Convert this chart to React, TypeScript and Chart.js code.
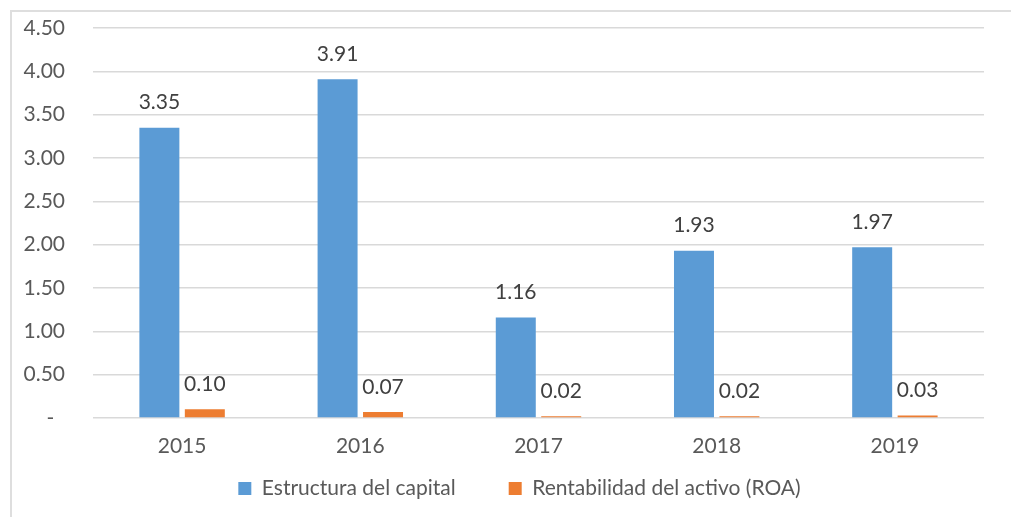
import React, { useEffect, useRef } from "react";
import { Chart, registerables } from "chart.js";

Chart.register(...registerables);

const years = ["2015", "2016", "2017", "2018", "2019"];
const capitalStructure = [3.35, 3.91, 1.16, 1.93, 1.97];
const returnOnAssets = [0.1, 0.07, 0.02, 0.02, 0.03];
const yTicks = [0, 0.5, 1, 1.5, 2, 2.5, 3, 3.5, 4, 4.5];

const FONT = "Lato, 'Open Sans', sans-serif";
const SIZE = 21;

// Draws each bar's value above it
const valueLabels = {
  id: "valueLabels",
  afterDatasetsDraw(chart: any) {
    const ctx = chart.ctx;
    ctx.save();
    ctx.font = `${SIZE}px ${FONT}`;
    ctx.fillStyle = "#404040";
    ctx.textAlign = "center";
    ctx.textBaseline = "middle";
    chart.data.datasets.forEach((ds: any, di: number) => {
      const meta = chart.getDatasetMeta(di);
      meta.data.forEach((bar: any, i: number) => {
        const v = ds.data[i] as number;
        ctx.fillText(v.toFixed(2), bar.x, bar.y - 25);
      });
    });
    ctx.restore();
  },
};

// Centres the legend row under the plot instead of the whole canvas
const legendShift = {
  id: "legendShift",
  afterLayout(chart: any) {
    if (chart.legend) chart.legend.left += 55;
  },
};

export default function App() {
  const canvasRef = useRef<HTMLCanvasElement | null>(null);

  useEffect(() => {
    if (!canvasRef.current) return;
    const chart = new Chart(canvasRef.current, {
      type: "bar",
      data: {
        labels: years,
        datasets: [
          {
            label: "Estructura del capital",
            data: capitalStructure,
            backgroundColor: "#5b9bd5",
            categoryPercentage: 0.51,
            barPercentage: 0.88,
          },
          {
            label: "Rentabilidad del activo (ROA)",
            data: returnOnAssets,
            backgroundColor: "#ed7d31",
            categoryPercentage: 0.51,
            barPercentage: 0.88,
          },
        ],
      },
      options: {
        animation: false,
        responsive: false,
        maintainAspectRatio: false,
        layout: { padding: { top: 28, right: 27, left: 0, bottom: 8 } },
        plugins: {
          tooltip: { enabled: false },
          legend: {
            position: "bottom",
            labels: {
              font: { family: FONT, size: SIZE },
              color: "#595959",
              boxWidth: 13,
              boxHeight: 13,
              padding: 10,
              generateLabels(chart: any) {
                return chart.data.datasets.map((ds: any, i: number) => ({
                  text: i === 0 ? ds.label + "        " : ds.label,
                  fillStyle: ds.backgroundColor,
                  strokeStyle: ds.backgroundColor,
                  lineWidth: 0,
                  datasetIndex: i,
                  hidden: false,
                  fontColor: "#595959",
                }));
              },
            },
          },
        },
        scales: {
          x: {
            afterFit(scale: any) {
              scale.height = 50;
              scale.paddingLeft = 0;
              scale.paddingRight = 0;
            },
            grid: { display: false },
            border: { display: false },
            ticks: {
              font: { family: FONT, size: SIZE },
              color: "#595959",
              padding: 8,
            },
          },
          y: {
            min: 0,
            max: 4.5,
            afterFit(scale: any) {
              scale.width = 93;
              scale.paddingTop = 0;
              scale.paddingBottom = 0;
            },
            afterBuildTicks(scale: any) {
              scale.ticks = yTicks.map((v) => ({ value: v }));
            },
            grid: { color: "#d9d9d9", lineWidth: 1.5, drawTicks: false },
            border: { display: false },
            ticks: {
              font: { family: FONT, size: SIZE },
              color: "#595959",
              padding: 28,
              callback: (v: any) => (Number(v) === 0 ? "-  " : Number(v).toFixed(2)),
            },
          },
        },
      },
      plugins: [valueLabels, legendShift],
    });
    return () => chart.destroy();
  }, []);

  return (
    <div
      style={{
        position: "absolute",
        left: 0,
        top: 0,
        width: 1011,
        height: 517,
        background: "#ffffff",
        overflow: "hidden",
      }}
    >
      <div
        style={{
          position: "absolute",
          left: 10,
          top: 10,
          width: 1101,
          height: 600,
          borderLeft: "2px solid #dedede",
          borderTop: "2px solid #dedede",
        }}
      />
      <canvas
        ref={canvasRef}
        width={1011}
        height={517}
        style={{ position: "absolute", left: 0, top: 0 }}
      />
    </div>
  );
}
